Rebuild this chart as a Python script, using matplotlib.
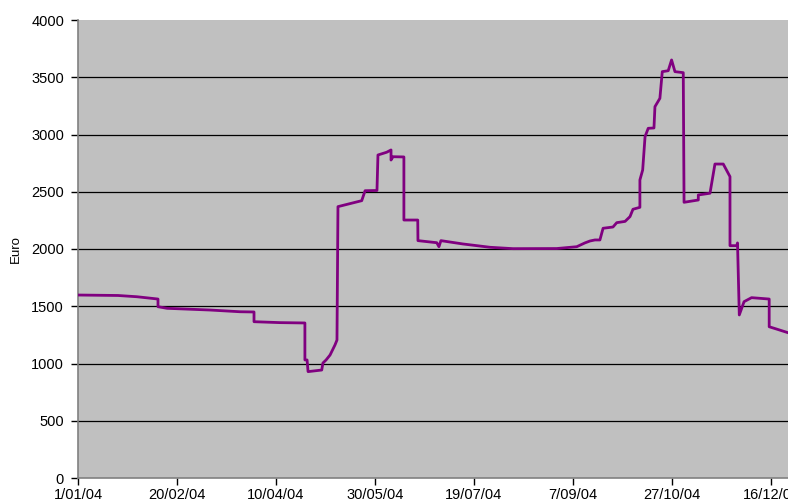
import pandas as pd
import matplotlib
matplotlib.use("Agg")
import matplotlib.pyplot as plt
import matplotlib.dates as mdates

plt.rcParams['font.family'] = ['Liberation Sans', 'DejaVu Sans']

# days after 1/01/04 and value in Euro
days = [0, 20.2, 29.8, 40.4, 40.4, 45, 66.7, 81.8, 88.9, 88.9, 102, 114.6, 114.6,
        115.7, 116.2, 123.1, 123.7, 125.3, 127.3, 129.8, 130.8, 131.3, 143.3, 145,
        151, 151.5, 155.9, 158.1, 158.1, 159.1, 164.6, 164.6, 171.6, 171.7, 181.2,
        182.3, 183.3, 194.4, 208.1, 219.7, 241.8, 251.9, 256, 258.6, 261.1, 263.6,
        265.2, 270.2, 272.1, 276.3, 278.8, 280.3, 283.8, 283.8, 285.2, 286.4, 288,
        290.9, 291.4, 293.9, 295.1, 298.1, 299.8, 301.5, 305.7, 306.1, 313.3, 313.3,
        319.2, 321.7, 325.9, 329.3, 329.3, 332.7, 333.1, 334, 336.4, 340.2, 349.1,
        349.1, 352.8, 358.6, 364.6]
euro = [1598, 1594, 1583, 1563, 1496, 1482, 1467, 1452, 1450, 1365, 1357, 1354, 1031,
        1031, 929, 943, 1004, 1031, 1074, 1162, 1205, 2370, 2422, 2509,
        2511, 2821, 2845, 2865, 2777, 2806, 2804, 2253, 2253, 2073, 2055,
        2020, 2073, 2044, 2015, 2003, 2004, 2020, 2053, 2070, 2079, 2079,
        2181, 2192, 2230, 2241, 2283, 2347, 2364, 2603, 2690, 2981, 3054,
        3057, 3243, 3316, 3549, 3557, 3651, 3549, 3540, 2408, 2428, 2472,
        2487, 2742, 2742, 2632, 2029, 2029, 2053, 1424, 1540, 1575, 1563,
        1321, 1301, 1269, 1249]

start = pd.Timestamp('2004-01-01')
dates = start + pd.to_timedelta(days, unit='D')
xticks = pd.date_range(start, periods=8, freq='50D')
yticks = [0, 500, 1000, 1500, 2000, 2500, 3000, 3500, 4000]

fig = plt.figure(figsize=(7.88, 5.04), dpi=100)
ax = fig.add_axes([78/788, 26/504, 1 - 78/788, 458/504])
ax.set_facecolor('#c0c0c0')

for v in yticks[1:-1]:
    ax.axhline(v, color='black', lw=0.9, zorder=1)

ax.plot(dates, euro, color='#800080', lw=2.0, zorder=3)

ax.set_ylim(0, 4000)
ax.set_xlim(start, start + pd.Timedelta(days=358.6))
ax.set_yticks(yticks)
ax.set_xticks(xticks)
ax.xaxis.set_major_formatter(
    plt.FuncFormatter(lambda x, p: (lambda d: f"{d.day}/{d.month:02d}/{d.year % 100:02d}")(mdates.num2date(x))))

for s in ['top', 'right']:
    ax.spines[s].set_visible(False)
for s in ['left', 'bottom']:
    ax.spines[s].set_color('#808080')
    ax.spines[s].set_linewidth(1.2)

ax.tick_params(axis='y', length=5, width=1, color='black', labelsize=10.5, pad=5)
ax.tick_params(axis='x', length=5, width=1, color='black', labelsize=10.5, pad=2)
ax.set_ylabel('Euro', fontsize=9.5)
ax.yaxis.set_label_coords(-0.079, 0.5)

fig.savefig('out.png', dpi=100)
